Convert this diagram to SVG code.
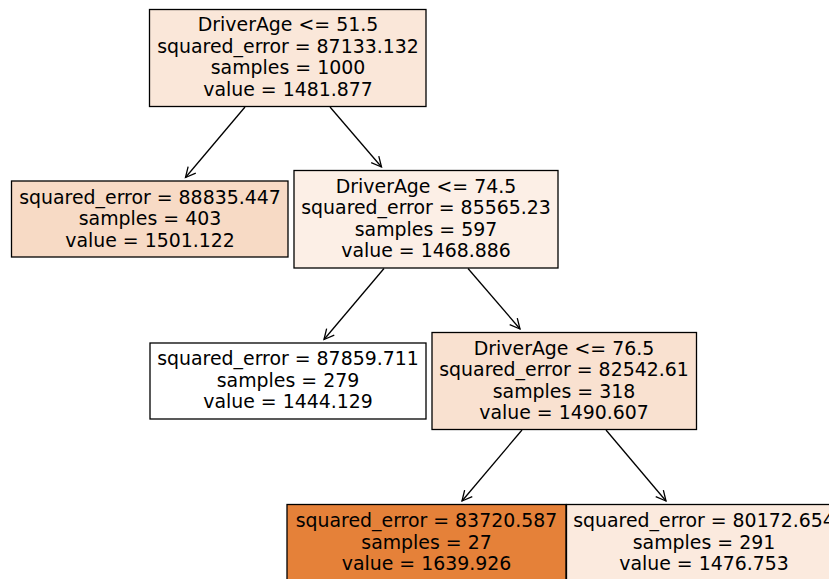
<svg xmlns="http://www.w3.org/2000/svg" width="829" height="579" viewBox="0 0 829 579">
  <defs>
    <marker id="arrow" markerUnits="userSpaceOnUse" markerWidth="24" markerHeight="24" viewBox="-12 -12 24 24" refX="0" refY="0" orient="auto" overflow="visible">
      <path d="M-10,-5 L0,0 L-10,5" fill="none" stroke="#000" stroke-width="1.3"/>
    </marker>
    <style>
      .box { stroke: #000; stroke-width: 1.3; }
      .lbl { font-family: "DejaVu Sans", "Liberation Sans", sans-serif; font-size: 18.9px; fill: #000; text-anchor: middle; }
      .edge { stroke: #000; stroke-width: 1.3; fill: none; marker-end: url(#arrow); }
    </style>
  </defs>
  <rect width="829" height="579" fill="#fff"/>

  <g id="connectors">
    <line class="edge" x1="245" y1="107" x2="185.5" y2="177.5"/>
    <line class="edge" x1="330" y1="107" x2="381.5" y2="167"/>
    <line class="edge" x1="384" y1="268.5" x2="324" y2="339.5"/>
    <line class="edge" x1="468" y1="268.5" x2="520" y2="329"/>
    <line class="edge" x1="522" y1="430" x2="462" y2="501"/>
    <line class="edge" x1="606" y1="430" x2="666" y2="501"/>
  </g>

  <g id="node0">
    <rect class="box" x="149.5" y="9.5" width="276.5" height="97" fill="#fae7d9"/>
    <text class="lbl" x="288" y="31">DriverAge &lt;= 51.5</text>
    <text class="lbl" x="288" y="52.5">squared_error = 87133.132</text>
    <text class="lbl" x="288" y="74">samples = 1000</text>
    <text class="lbl" x="288" y="95.5">value = 1481.877</text>
  </g>

  <g id="node1">
    <rect class="box" x="11.5" y="181" width="276.5" height="76" fill="#f7dac5"/>
    <text class="lbl" x="150" y="203.5">squared_error = 88835.447</text>
    <text class="lbl" x="150" y="225">samples = 403</text>
    <text class="lbl" x="150" y="246.5">value = 1501.122</text>
  </g>

  <g id="node2">
    <rect class="box" x="294" y="170.5" width="264" height="97.5" fill="#fcefe6"/>
    <text class="lbl" x="426" y="192.5">DriverAge &lt;= 74.5</text>
    <text class="lbl" x="426" y="214">squared_error = 85565.23</text>
    <text class="lbl" x="426" y="235.5">samples = 597</text>
    <text class="lbl" x="426" y="257">value = 1468.886</text>
  </g>

  <g id="node3">
    <rect class="box" x="150" y="343" width="276" height="76" fill="#ffffff"/>
    <text class="lbl" x="288" y="365">squared_error = 87859.711</text>
    <text class="lbl" x="288" y="386.5">samples = 279</text>
    <text class="lbl" x="288" y="408">value = 1444.129</text>
  </g>

  <g id="node4">
    <rect class="box" x="432" y="332.5" width="264.5" height="97" fill="#f9e1d0"/>
    <text class="lbl" x="564" y="354.5">DriverAge &lt;= 76.5</text>
    <text class="lbl" x="564" y="376">squared_error = 82542.61</text>
    <text class="lbl" x="564" y="397.5">samples = 318</text>
    <text class="lbl" x="564" y="419">value = 1490.607</text>
  </g>

  <g id="node5">
    <rect class="box" x="287" y="504.5" width="279" height="90" fill="#e58139"/>
    <text class="lbl" x="426.5" y="527">squared_error = 83720.587</text>
    <text class="lbl" x="426.5" y="548.5">samples = 27</text>
    <text class="lbl" x="426.5" y="570">value = 1639.926</text>
  </g>

  <g id="node6">
    <rect class="box" x="566.5" y="504.5" width="279" height="90" fill="#fbeade"/>
    <text class="lbl" x="704" y="527">squared_error = 80172.654</text>
    <text class="lbl" x="704" y="548.5">samples = 291</text>
    <text class="lbl" x="704" y="570">value = 1476.753</text>
  </g>
</svg>
